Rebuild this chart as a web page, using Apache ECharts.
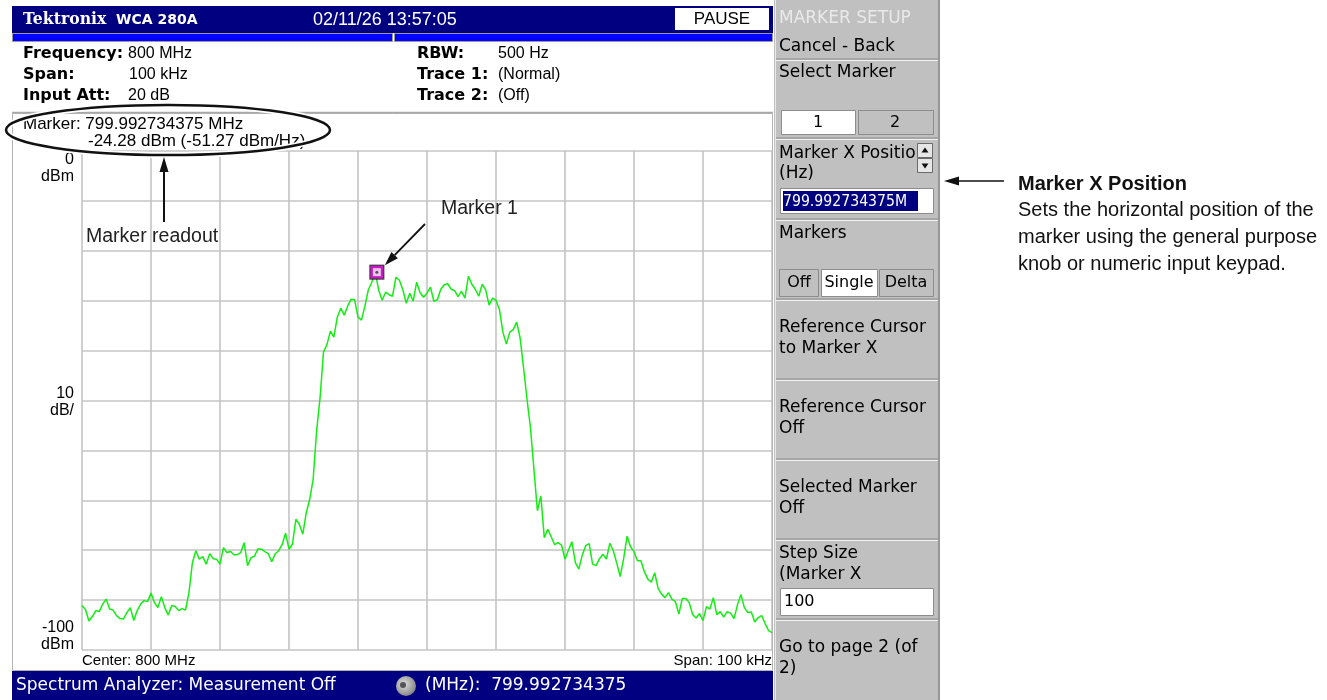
<!DOCTYPE html>
<html>
<head>
<meta charset="utf-8">
<title>WCA 280A Marker Setup</title>
<script src="https://cdn.jsdelivr.net/npm/echarts/dist/echarts.min.js"></script>
<style>
  html, body { margin: 0; padding: 0; background: #fff; }
  #chart { width: 1327px; height: 700px; }
</style>
</head>
<body>
<div id="chart"></div>
<script>
// sweep points, offset from 800 MHz centre (kHz)
var freqKHz = [
  -50, -49.5, -49, -48.5, -48, -47.5, -47, -46.5, -46, -45.5,
  -45, -44.5, -44, -43.5, -43, -42.5, -42, -41.5, -41, -40.5,
  -40, -39.5, -39, -38.5, -38, -37.5, -37, -36.5, -36, -35.5,
  -35, -34.5, -34, -33.5, -33, -32.5, -32, -31.5, -31, -30.5,
  -30, -29.5, -29, -28.5, -28, -27.5, -27, -26.5, -26, -25.5,
  -25, -24.5, -24, -23.5, -23, -22.5, -22, -21.5, -21, -20.5,
  -20, -19.5, -19, -18.5, -18, -17.5, -17, -16.5, -16, -15.5,
  -15, -14.5, -14, -13.5, -13, -12.5, -12, -11.5, -11, -10.5,
  -10, -9.5, -9, -8.5, -8, -7.5, -7, -6.5, -6, -5.5,
  -5, -4.5, -4, -3.5, -3, -2.5, -2, -1.5, -1, -0.5,
  0, 0.5, 1, 1.5, 2, 2.5, 3, 3.5, 4, 4.5,
  5, 5.5, 6, 6.5, 7, 7.5, 8, 8.5, 9, 9.5,
  10, 10.5, 11, 11.5, 12, 12.5, 13, 13.5, 14, 14.5,
  15, 15.5, 16, 16.5, 17, 17.5, 18, 18.5, 19, 19.5,
  20, 20.5, 21, 21.5, 22, 22.5, 23, 23.5, 24, 24.5,
  25, 25.5, 26, 26.5, 27, 27.5, 28, 28.5, 29, 29.5,
  30, 30.5, 31, 31.5, 32, 32.5, 33, 33.5, 34, 34.5,
  35, 35.5, 36, 36.5, 37, 37.5, 38, 38.5, 39, 39.5,
  40, 40.5, 41, 41.5, 42, 42.5, 43, 43.5, 44, 44.5,
  45, 45.5, 46, 46.5, 47, 47.5, 48, 48.5, 49, 49.5,
  50
];
// trace 1 level (dBm)
var traceDbm = [
  -91.1, -91.9, -94.2, -93.3, -92.1, -92.3, -90.8, -89.8, -91.8, -92.0,
  -93.1, -93.7, -93.8, -92.5, -91.5, -94.1, -92.1, -90.8, -90.1, -90.3,
  -88.6, -90.5, -91.5, -89.3, -91.5, -93.0, -91.1, -91.3, -92.1, -91.7,
  -92.0, -88.5, -82.5, -80.1, -81.8, -81.3, -82.8, -80.7, -81.7, -81.8,
  -82.8, -79.5, -80.5, -80.2, -80.9, -80.9, -80.5, -78.5, -83.1, -81.5,
  -81.2, -79.7, -79.8, -80.3, -80.7, -82.3, -80.7, -80.1, -78.9, -76.6,
  -79.8, -78.8, -73.8, -74.8, -76.8, -72.5, -69.8, -65.8, -56.1, -49.5,
  -40.3, -38.8, -36.1, -37.3, -33.3, -31.5, -32.9, -31.1, -29.7, -29.8,
  -33.3, -33.9, -31.1, -27.8, -26.3, -24.3, -27.9, -29.9, -28.3, -28.8,
  -29.1, -25.3, -25.9, -27.8, -30.5, -28.5, -30.1, -26.3, -28.4, -29.3,
  -28.5, -27.3, -30.1, -29.8, -27.7, -26.8, -26.6, -27.7, -28.0, -29.2,
  -28.1, -29.5, -25.1, -26.7, -27.7, -29.1, -26.7, -27.8, -30.9, -29.5,
  -29.9, -31.8, -36.3, -38.7, -36.3, -35.8, -34.3, -37.5, -43.5, -49.8,
  -55.5, -63.8, -72.1, -69.1, -77.5, -75.8, -77.3, -78.9, -78.5, -79.0,
  -81.8, -80.0, -78.3, -82.5, -83.8, -81.0, -79.1, -78.7, -82.8, -83.1,
  -81.7, -80.8, -81.8, -78.6, -80.1, -82.6, -85.3, -81.7, -77.2, -79.3,
  -80.3, -82.1, -82.1, -84.3, -85.8, -86.4, -84.5, -87.7, -88.8, -89.5,
  -88.5, -89.8, -90.3, -92.8, -89.7, -89.7, -90.5, -92.9, -93.6, -92.7,
  -94.1, -91.3, -91.8, -89.5, -92.9, -92.3, -93.4, -92.3, -92.6, -93.7,
  -90.9, -88.9, -91.5, -92.5, -92.4, -94.4, -93.5, -93.1, -94.7, -96.1,
  -96.5
];
// marker 1: 799.992734375 MHz -> offset in kHz
var markerFreq = -7.265625;
var markerLevel = -24.28;
// y tick labels drawn beside the graticule (value, line 1, line 2)
var yTickLabels = [[0, '0', 'dBm'], [-50, '10', 'dB/'], [-100, '-100', 'dBm']];

var UI = "'DejaVu Sans', sans-serif";
var ARIAL = "'Liberation Sans', Arial, sans-serif";
var NAVY = '#000080';
var PANEL = '#c0c0c0';

function T(x, y, text, o) {
  o = o || {};
  return {
    type: 'text', x: x, y: y, scaleX: o.sx || 1, silent: true, z: o.z || 20,
    style: {
      text: text, x: 0, y: 0,
      fill: o.color || '#000',
      fontSize: o.size || 16,
      fontFamily: o.family || ARIAL,
      fontWeight: o.weight || 'normal',
      align: o.align || 'left',
      verticalAlign: 'middle'
    }
  };
}
function R(x, y, w, h, fill, stroke, z) {
  return {
    type: 'rect', silent: true, z: z || 5,
    shape: { x: x, y: y, width: w, height: h },
    style: { fill: fill || 'none', stroke: stroke || null, lineWidth: 1 }
  };
}
function L(x1, y1, x2, y2, color, w, z) {
  return {
    type: 'line', silent: true, z: z || 6,
    shape: { x1: x1, y1: y1, x2: x2, y2: y2 },
    style: { stroke: color, lineWidth: w || 1 }
  };
}
function head(pts, z) {
  return { type: 'polygon', silent: true, z: z || 30, shape: { points: pts }, style: { fill: '#111' } };
}

var chart = echarts.init(document.getElementById('chart'), null, { renderer: 'canvas' });

var option = {
  animation: false,
  backgroundColor: '#fff',
  grid: { left: 82, top: 151, width: 690, height: 499, show: false },
  xAxis: {
    type: 'value', min: -50, max: 50, interval: 10,
    axisLine: { show: false }, axisTick: { show: false }, axisLabel: { show: false },
    splitLine: { show: true, lineStyle: { color: '#c4c4c4', width: 1.6 } }
  },
  yAxis: {
    type: 'value', min: -100, max: 0, interval: 10,
    axisLine: { show: false }, axisTick: { show: false }, axisLabel: { show: false },
    splitLine: { show: true, lineStyle: { color: '#c4c4c4', width: 1.6 } }
  },
  series: [
    {
      type: 'line', name: 'Trace 1',
      data: freqKHz.map(function (f, i) { return [f, traceDbm[i]]; }),
      showSymbol: false, smooth: false, z: 3,
      lineStyle: { color: '#12ee12', width: 1.5 }
    },
    { type: 'scatter', data: [[markerFreq, markerLevel]], symbol: 'rect', symbolSize: 15, z: 4,
      itemStyle: { color: '#000' } },
    { type: 'scatter', data: [[markerFreq, markerLevel]], symbol: 'rect', symbolSize: 13, z: 5,
      itemStyle: { color: '#e818e8' } },
    { type: 'scatter', data: [[markerFreq, markerLevel]], symbol: 'rect', symbolSize: 8, z: 6,
      itemStyle: { color: '#fdeefd' } },
    { type: 'scatter', data: [[markerFreq, markerLevel]], symbol: 'circle', symbolSize: 3, z: 7,
      itemStyle: { color: '#333' } }
  ]
};
chart.setOption(option);

var mk = chart.convertToPixel({ gridIndex: 0 }, [markerFreq, markerLevel]);
var yPix = function (v) { return chart.convertToPixel({ yAxisIndex: 0 }, v); };

var g = [];

// ---- title bar
g.push(R(12, 6, 761, 27, NAVY));
g.push(T(23, 20, 'Tektronix', { color: '#fff', size: 16, weight: 'bold', family: "'DejaVu Serif', serif", sx: 0.98 }));
g.push(T(116, 20, 'WCA 280A', { color: '#fff', size: 14, weight: 'bold', family: UI }));
g.push(T(313, 20, '02/11/26 13:57:05', { color: '#fff', size: 18 }));
g.push(R(675, 8, 94, 22, '#fff'));
g.push(T(722, 19.5, 'PAUSE', { size: 17, align: 'center' }));

// ---- progress bars
g.push(R(12.5, 33.5, 380, 8, '#0000ff', '#9a9a9a'));
g.push(R(394.5, 33.5, 378, 8, '#0000ff', '#9a9a9a'));

// ---- setup readout
var B = { weight: 'bold', size: 16, family: UI };
g.push(T(23, 54, 'Frequency:', B));
g.push(T(23, 75, 'Span:', B));
g.push(T(23, 96, 'Input Att:', B));
g.push(T(128, 54, '800 MHz'));
g.push(T(129, 75, '100 kHz'));
g.push(T(128, 96, '20 dB'));
g.push(T(417, 54, 'RBW:', B));
g.push(T(417, 75, 'Trace 1:', B));
g.push(T(417, 96, 'Trace 2:', B));
g.push(T(498, 54, '500 Hz'));
g.push(T(498, 75, '(Normal)'));
g.push(T(498, 96, '(Off)'));

// ---- graph frame
g.push(L(12, 112.5, 773, 112.5, '#a8a8a8', 1.5));
g.push(R(12.5, 113.5, 760, 557, null, '#b4b4b4'));

g.push(T(23, 124, 'Marker: 799.992734375 MHz', { size: 17 }));
g.push(T(88, 141, '-24.28 dBm (-51.27 dBm/Hz)', { size: 17 }));

yTickLabels.forEach(function (t) {
  var py = yPix(t[0]);
  var off = t[0] === 0 ? 9 : (t[0] === -100 ? -22 : -7);
  g.push(T(74, py + off, t[1], { align: 'right' }));
  g.push(T(74, py + off + 17, t[2], { align: 'right' }));
});

g.push(T(82, 661, 'Center: 800 MHz', { size: 15 }));
g.push(T(772, 661, 'Span: 100 kHz', { size: 15, align: 'right' }));

// ---- status bar
g.push(R(12, 671, 761, 29, NAVY));
g.push(T(16, 686, 'Spectrum Analyzer: Measurement Off', { color: '#fff', size: 17, family: UI }));
g.push({
  type: 'circle', silent: true, z: 20, shape: { cx: 406, cy: 686, r: 10 },
  style: { fill: new echarts.graphic.RadialGradient(0.4, 0.4, 0.7, [
    { offset: 0, color: '#e0e0e0' }, { offset: 1, color: '#7a7a7a' }]) }
});
g.push({ type: 'circle', silent: true, z: 21, shape: { cx: 403, cy: 685, r: 3 }, style: { fill: '#555' } });
g.push(T(425, 686, '(MHz):  799.992734375', { color: '#fff', size: 17, family: UI }));

// ---- side menu panel
g.push(R(774, 0, 166, 700, PANEL, null, 2));
g.push(L(775.5, 0, 775.5, 700, '#e8e8e8', 1));
g.push(L(939, 0, 939, 700, '#8a8a8a', 1.5));
[59, 138, 219, 299, 379, 459, 539, 619].forEach(function (y) {
  g.push(L(776, y, 938, y, '#8c8c8c', 1.2));
  g.push(L(776, y + 1.5, 938, y + 1.5, '#f2f2f2', 1.2));
});
var P = { size: 17, family: UI };
var PB = { size: 16, family: UI, align: 'center' };
g.push(T(779, 19, 'MARKER SETUP', { size: 17, family: UI, color: '#e9e9e9' }));
g.push(T(779, 47, 'Cancel - Back', P));
g.push(T(779, 73, 'Select Marker', P));
g.push(R(781.5, 110.5, 74, 24, '#fff', '#8c8c8c'));
g.push(R(858.5, 110.5, 75, 24, PANEL, '#8c8c8c'));
g.push(T(818, 123, '1', PB));
g.push(T(895, 123, '2', PB));
g.push(T(779, 154, 'Marker X Positio', P));
g.push(R(916, 142, 18, 32, PANEL, null, 21));
g.push(R(917.5, 143.5, 15, 14, '#e6e6e6', '#6a6a6a', 22));
g.push(R(917.5, 158.5, 15, 14, '#e6e6e6', '#6a6a6a', 22));
g.push(head([[925, 147.5], [921.5, 152.5], [928.5, 152.5]], 23));
g.push(head([[925, 168.5], [921.5, 163.5], [928.5, 163.5]], 23));
g.push(T(779, 174, '(Hz)', P));
g.push(R(780.5, 188.5, 153, 25, '#fff', '#8c8c8c'));
g.push(R(783, 191, 135, 20, NAVY));
g.push(T(783, 201.5, '799.992734375M', { size: 16, family: UI, color: '#fff', sx: 0.88 }));
g.push(T(779, 234, 'Markers', P));
g.push(R(779.5, 269.5, 39, 27, PANEL, '#8c8c8c'));
g.push(R(821.5, 269.5, 56, 27, '#fff', '#8c8c8c'));
g.push(R(879.5, 269.5, 54, 27, PANEL, '#8c8c8c'));
g.push(T(799, 283, 'Off', PB));
g.push(T(849, 283, 'Single', PB));
g.push(T(906, 283, 'Delta', PB));
g.push(T(779, 328, 'Reference Cursor', P));
g.push(T(779, 349, 'to Marker X', P));
g.push(T(779, 408, 'Reference Cursor', P));
g.push(T(779, 429, 'Off', P));
g.push(T(779, 488, 'Selected Marker', P));
g.push(T(779, 509, 'Off', P));
g.push(T(779, 554, 'Step Size', P));
g.push(T(779, 575, '(Marker X', P));
g.push(R(780.5, 588.5, 153, 27, '#fff', '#8c8c8c'));
g.push(T(784, 602, '100', { size: 16, family: UI }));
g.push(T(779, 648, 'Go to page 2 (of', P));
g.push(T(779, 669, '2)', P));

// ---- callouts
g.push({ type: 'ellipse', silent: true, z: 28, shape: { cx: 168, cy: 130, rx: 162, ry: 25 },
  style: { fill: 'none', stroke: '#fff', lineWidth: 6 } });
g.push({ type: 'ellipse', silent: true, z: 29, shape: { cx: 168, cy: 130, rx: 162, ry: 25 },
  style: { fill: 'none', stroke: '#111', lineWidth: 2.5 } });
g.push(L(164, 222, 164, 168, '#111', 2, 30));
g.push(head([[164, 157], [159.5, 172], [168.5, 172]]));
g.push(T(86, 237, 'Marker readout', { size: 19.5, color: '#222', z: 30 }));

g.push(T(441, 209, 'Marker 1', { size: 19.5, color: '#222', z: 30 }));
var ax = mk[0] + 8, ay = mk[1] - 7;
var sx = 425, sy = 224;
var ang = Math.atan2(ay - sy, ax - sx);
var bx = ax - 14 * Math.cos(ang), by = ay - 14 * Math.sin(ang);
g.push(L(sx, sy, bx, by, '#111', 1.8, 30));
g.push(head([[ax, ay],
  [bx + 4.5 * Math.sin(ang), by - 4.5 * Math.cos(ang)],
  [bx - 4.5 * Math.sin(ang), by + 4.5 * Math.cos(ang)]]));

g.push(L(1004, 181, 955, 181, '#111', 1.5, 30));
g.push(head([[944, 181], [959, 176.5], [959, 185.5]]));
g.push(T(1018, 184, 'Marker X Position', { size: 20, weight: 'bold', color: '#111', z: 30 }));
g.push(T(1018, 210, 'Sets the horizontal position of the', { size: 20, color: '#111', z: 30 }));
g.push(T(1018, 237, 'marker using the general purpose', { size: 20, color: '#111', z: 30 }));
g.push(T(1018, 264, 'knob or numeric input keypad.', { size: 20, color: '#111', z: 30 }));

chart.setOption({ graphic: { elements: g } });
</script>
</body>
</html>
